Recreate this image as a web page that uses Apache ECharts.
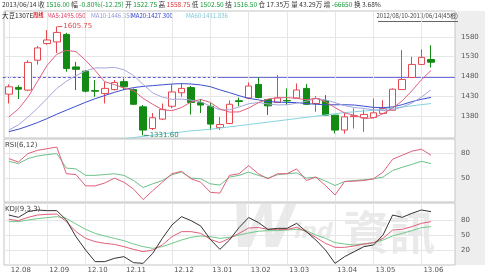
<!DOCTYPE html>
<html><head><meta charset="utf-8">
<script src="https://cdn.jsdelivr.net/npm/echarts@6/dist/echarts.min.js"></script>
<style>html,body{margin:0;padding:0;background:#fff}#c{width:488px;height:277px}</style>
</head><body><div id="c"></div>
<script>
const dates = ['2012-08-10','2012-08-17','2012-08-24','2012-08-31','2012-09-07','2012-09-14','2012-09-21','2012-09-28','2012-10-05','2012-10-12','2012-10-19','2012-10-26','2012-11-02','2012-11-09','2012-11-16','2012-11-23','2012-11-30','2012-12-07','2012-12-14','2012-12-21','2012-12-28','2013-01-04','2013-01-11','2013-01-18','2013-01-25','2013-02-01','2013-02-08','2013-02-15','2013-02-22','2013-03-01','2013-03-08','2013-03-15','2013-03-22','2013-03-29','2013-04-05','2013-04-12','2013-04-19','2013-04-26','2013-05-03','2013-05-10','2013-05-17','2013-05-24','2013-05-31','2013-06-07','2013-06-14'];
const opens = [1435.5,1452.4,1445.6,1521,1563,1567,1586,1504,1493.5,1444.5,1437,1447,1467,1447,1403.5,1349,1372.5,1405,1439,1452,1414,1405,1351.6,1361.5,1419,1426,1460,1422,1414.6,1419.5,1426,1450,1412,1418.6,1382.6,1345,1378.8,1376,1376.8,1387,1395,1447,1477.6,1510.4,1522.75];
const closes = [1454,1448,1515.5,1552,1572,1591,1500,1498,1443,1443,1450,1465,1454,1410,1345,1376,1397,1441,1450,1414.6,1408,1360,1359,1410,1417,1456,1427,1406,1426,1418.5,1446,1410,1424.6,1382.6,1345,1378.3,1381,1384.4,1388.4,1399.5,1448,1472.6,1510.4,1528.25,1516];
const highs = [1460,1458,1521,1557,1597,1605.75,1590,1517,1496,1471,1466,1471,1475,1450,1408,1388,1412,1460,1462.5,1456,1423,1413,1378,1420,1427,1465,1477.6,1423,1483.5,1450,1462.5,1461,1430.5,1433,1383,1388.4,1399.5,1397,1424.6,1420,1450,1546.5,1529.6,1548,1558.75];
const lows = [1412,1423,1443,1510,1560,1539,1492,1446,1440,1429,1412,1445,1446,1408,1331.6,1345,1370,1400,1429,1384,1388,1345,1345,1360,1405,1424,1425,1383,1413,1408,1425,1409,1391,1381,1336.5,1336,1349,1340.5,1375,1386,1394,1446,1476,1509,1502.5];
const ma5 = [1378,1398,1428,1468,1508.3,1535.7,1546.1,1542.6,1520.8,1495,1466.8,1459.8,1451,1444.4,1424.8,1410,1396.4,1393.8,1401.8,1415.7,1422.1,1414.7,1398.3,1390.3,1390.8,1400.4,1413.8,1423.2,1426.4,1426.8,1424.8,1421.4,1425.1,1416.4,1401.6,1388.1,1382.3,1374.3,1375.4,1386.3,1400.3,1418.6,1443.8,1471.8,1495.05];
const ma10 = [1345,1358,1378,1400,1425,1450,1468,1482,1494,1501.7,1501.3,1503,1496.8,1482.6,1459.9,1438.4,1428.1,1422.4,1423.1,1420.3,1416.1,1405.6,1396.1,1396.1,1403.3,1411.3,1414.3,1410.8,1408.4,1408.8,1412.6,1417.6,1424.2,1421.4,1414.2,1406.5,1401.9,1399.7,1395.9,1394,1396,1403,1413,1428,1446.35];
const ma20 = [1341,1347,1355,1364,1374,1385,1395,1405,1415,1424,1432,1440,1447,1452,1455,1457,1459,1461,1462,1461,1458.7,1454.3,1446.4,1439.3,1431.6,1424.8,1421.2,1416.6,1415.7,1414.5,1414.3,1411.6,1410.1,1408.7,1408.7,1408.9,1408.1,1405.2,1402.1,1401.4,1403.4,1409,1416.6,1422.5,1427.3];
const ma60 = [1255,1262,1269,1276,1283,1290,1296,1302,1307,1312,1316,1320,1323,1326,1329,1332,1335,1338,1340,1343,1345,1347,1350,1353,1356,1359,1362,1365,1368,1371,1374,1377,1380,1383,1386,1389,1391,1393,1395,1397,1400,1403,1406,1409,1411.8];
const rsi6 = [73.7,69.5,80,84,86,88,55,54,40,40,43.5,49.5,44.5,36,23,34,44.5,55,58,48.8,44.5,32,31,53,55,65,55,48.7,55,55,61,46.6,50.8,40.4,28.7,45.4,45.8,46.6,48.7,57,72.9,77.9,82.9,85.4,77.9];
const rsi12 = [70.4,67.5,73.7,77,78.7,80,62,61,53,53,54,55,53,46.6,38,42.5,46.6,53.7,57,49.6,48.8,42.5,41,50.8,53,57,53,49.6,53.7,55,56,49.6,50.8,46,40.4,45.4,46.5,47.5,48.7,50.8,59,63,66.5,70.4,67.5];
const kdjK = [81.3,78.7,85.3,90,91.3,92,76.7,56.7,43.3,36.7,33.3,31.3,26.7,21.3,16.7,20,30,46.7,56.7,56.7,53.3,41.3,34.7,43.3,53.3,64,65,61.3,61.3,61.3,65.3,56.7,45.3,33.3,25.3,25.3,28,32,34.7,43.3,60,61.3,66.7,73.3,76.7];
const kdjD = [76.7,76.7,80,82.7,84.7,86.7,83.3,72,61.3,53.3,48,43.3,38.7,32,26.7,23.3,26.7,33.3,40,45.3,48,46.7,43.3,45.3,50,54,57.5,58.7,58.7,60,61.3,58.7,50,43.3,34.7,32,30,32,34.7,40,48,53.3,58.7,64.7,66.7];
const kdjJ = [90,85.3,96.7,100,98.7,98.7,80,46.7,20,-3.3,-3.3,3.3,6.7,-5.3,-6.7,13.3,43.3,70,86.7,78.7,68,41.3,21.3,40,65,85,75,61.3,63.3,63.3,73.3,56.7,40,20,-6.7,6.7,16.7,26.7,30,50,90,85.3,93.3,100,96.7];
const mainTicks = [1380,1430,1480,1530,1580];
const rsiTicks = [50,80];
const kdjTicks = [20,50,80];
const refLevel = 1478;
const refSplitIdx = 22;

const N = dates.length;
const monthIdx = [];
dates.forEach((d,i)=>{ if(i===0 || d.slice(0,7)!==dates[i-1].slice(0,7)) monthIdx.push(i); });
const monthSet = new Set(monthIdx);
const fmtMonth = d => d.slice(2,4)+'.'+d.slice(5,7);

const GL = 4, GW = 451;
const gridStyle = {show:true, borderColor:'#c4c4c4', borderWidth:1, backgroundColor:'transparent'};
const grids = [
  Object.assign({left:GL, width:GW, top:11, height:127}, gridStyle),
  Object.assign({left:GL, width:GW, top:139, height:63}, gridStyle),
  Object.assign({left:GL, width:GW, top:203, height:62}, gridStyle)
];
function xa(gi, show){
  return {type:'category', gridIndex:gi, data:dates, max:N+1, boundaryGap:true,
    axisLine:{show:false},
    axisTick:{show:show, alignWithLabel:true, interval:(i)=>monthSet.has(i), length:5, lineStyle:{color:'#999'}},
    axisLabel:{show:show, interval:(i)=>monthSet.has(i), formatter:(v)=> v ? fmtMonth(v) : '', align:'left', padding:[0,0,0,2], fontSize:7, color:'#555', margin:2, fontFamily:'DejaVu Sans'},
    splitLine:{show:false}};
}
function ya(gi, min, max, interval, ticks){
  return {type:'value', gridIndex:gi, position:'right', min:min, max:max, interval:interval,
    axisLine:{show:false}, axisTick:{show:false}, splitLine:{show:false},
    axisLabel:{formatter:(v)=> ticks.includes(Math.round(v*100)/100) ? String(Math.round(v)) : '', fontSize:7, color:'#555', margin:6, fontFamily:'DejaVu Sans'}};
}
const gridLineStyle = {color:'#e6e6e6', type:'solid', width:1};
function gridLines(ticks){
  const arr = monthIdx.map(i=>({xAxis:dates[i], lineStyle:gridLineStyle}));
  ticks.forEach(t=>arr.push({yAxis:t, lineStyle:gridLineStyle}));
  return arr;
}
function ml(data){ return {silent:true, z:1, symbol:['none','none'], label:{show:false}, animation:false, data:data}; }
function lineS(name, data, color, xi, yi, extra){
  return Object.assign({name:name, type:'line', xAxisIndex:xi, yAxisIndex:yi, data:data, symbol:'none', showSymbol:false,
    lineStyle:{color:color, width:1}, itemStyle:{color:color}, z:3, animation:false}, extra||{});
}
const cjk = 'Noto Sans CJK SC';
const txt = (id, x, y, text, fill, size, extra) => Object.assign({type:'text', id:id, silent:true, x:x, y:y,
  style:{text:text, fill:fill, fontSize:size, fontFamily:cjk}}, extra||{});

const graphics = [
  {type:'rect', id:'strip', z:-10, silent:true, shape:{x:455, y:11, width:30, height:254}, style:{fill:'#eeeeee'}},
  {type:'text', id:'wm', z:0, silent:true, left:230, top:203, style:{
    text:'{w|W}{i|ind}{z| 資訊}',
    rich:{w:{fontSize:58, fontWeight:'bold', fontStyle:'italic', fontFamily:'DejaVu Sans', fill:'rgba(150,150,150,0.2)'},
          i:{fontSize:22, fontWeight:'bold', fontStyle:'italic', fontFamily:'DejaVu Sans', fill:'rgba(150,150,150,0.2)'},
          z:{fontSize:46, fontWeight:'bold', fontFamily:'Noto Sans CJK TC', fill:'rgba(150,150,150,0.2)'}}}},
  {type:'text', id:'row1', silent:true, x:2, y:1, style:{
    text:'{k|2013/06/14 收 }{g|1516.00}{k| 幅 }{g|-0.80%(-12.25)}{k| 开 }{g|1522.75}{k| 高 }{r|1558.75}{k| 低 }{g|1502.50}{k| 结 }{g|1516.50}{k| 仓 17.35万 量 43.29万 增 }{g|-66650}{k| 换 3.68%}',
    rich:{k:{fill:'#333', fontSize:6.6, fontFamily:cjk}, g:{fill:'#1a9a3a', fontSize:6.6, fontFamily:cjk}, r:{fill:'#e03a3a', fontSize:6.6, fontFamily:cjk}}}},
  txt('name', 2, 12, '大豆1307E', '#222', 6.5),
  txt('tag', 33, 12.5, '周线', '#e02020', 5.2, {style:{text:'周线', fill:'#e02020', fontSize:5.2, fontFamily:cjk, fontWeight:'bold'}}),
  txt('ma5t', 47, 12.5, 'MA5:1495.050', '#e0406a', 6),
  txt('ma10t', 91, 12.5, 'MA10:1446.350', '#8f96d6', 6),
  txt('ma20t', 131, 12.5, 'MA20:1427.300', '#2a3fd0', 6),
  txt('ma60t', 186, 12.5, 'MA60:1411.836', '#7cc9d8', 6),
  txt('range', 458, 12.5, '2012/08/10-2013/06/14(45根)', '#444', 6, {style:{text:'2012/08/10-2013/06/14(45根)', fill:'#444', fontSize:6, fontFamily:cjk, align:'right'}}),
  {type:'line', id:'uline', silent:true, shape:{x1:378, y1:21.5, x2:458, y2:21.5}, style:{stroke:'#666', lineWidth:1}},
  {type:'text', id:'rsit', silent:true, x:5, y:142, style:{text:'RSI(6,12)', fill:'#444', fontSize:7, fontFamily:'DejaVu Sans'}},
  {type:'text', id:'kdjt', silent:true, x:5, y:206, style:{text:'KDJ(9,3,3)', fill:'#444', fontSize:7, fontFamily:'DejaVu Sans'}}
];

const option = {
  animation:false,
  backgroundColor:'#ffffff',
  grid: grids,
  xAxis:[xa(0,false), xa(1,false), xa(2,true)],
  yAxis:[ya(0,1325,1645,5,mainTicks), ya(1,20,98,10,rsiTicks), ya(2,-10,114,10,kdjTicks)],
  series:[
    {type:'candlestick', name:'K', xAxisIndex:0, yAxisIndex:0, barWidth:7, z:2,
     data: dates.map((d,i)=>[opens[i], closes[i], lows[i], highs[i]]),
     itemStyle:{color:'#ffffff', color0:'#138a13', borderColor:'#e5484f', borderColor0:'#138a13', borderWidth:1},
     markLine: ml(gridLines(mainTicks)),
     markPoint:{z:6, animation:false, symbol:'rect', symbolSize:[5,1], symbolOffset:[3,0],
       data:[
         {type:'max', valueDim:'highest', itemStyle:{color:'#e04848'}, label:{show:true, position:'right', distance:1, color:'#e04848', fontSize:7, fontFamily:'DejaVu Sans', formatter:(p)=>Number(p.value).toFixed(2)}},
         {type:'min', valueDim:'lowest', itemStyle:{color:'#2f8f6f'}, label:{show:true, position:'right', distance:1, color:'#2f8f6f', fontSize:7, fontFamily:'DejaVu Sans', formatter:(p)=>Number(p.value).toFixed(2)}}
       ]}
    },
    lineS('MA60', ma60, '#86d3e0', 0, 0),
    lineS('MA20', ma20, '#3b4fcf', 0, 0),
    lineS('MA10', ma10, '#a4a8dc', 0, 0),
    lineS('MA5', ma5, '#e0607e', 0, 0),
    lineS('RSI12', rsi12, '#6cc08a', 1, 1, {markLine: ml(gridLines(rsiTicks))}),
    lineS('RSI6', rsi6, '#e0607a', 1, 1),
    lineS('D', kdjD, '#72c98a', 2, 2, {markLine: ml(gridLines(kdjTicks))}),
    lineS('K', kdjK, '#e0607a', 2, 2),
    lineS('J', kdjJ, '#333333', 2, 2)
  ],
  graphic: graphics
};
const chart = echarts.init(document.getElementById('c'), null, {renderer:'canvas'});
chart.setOption(option);
// reference level line: positions come from the library's own scales
const yRef = Math.round(chart.convertToPixel({yAxisIndex:0}, refLevel)) + 0.5;
const xSplit = chart.convertToPixel({xAxisIndex:0}, dates[refSplitIdx]);
const xStart = chart.convertToPixel({xAxisIndex:0}, dates[0]) - 6;
graphics.push({type:'line', id:'refDash', z:1, silent:true, shape:{x1:xStart, y1:yRef, x2:xSplit, y2:yRef}, style:{stroke:'#5c5cd8', lineWidth:1, lineDash:[3,2]}});
graphics.push({type:'line', id:'refSolid', z:1, silent:true, shape:{x1:xSplit, y1:yRef, x2:GL+GW, y2:yRef}, style:{stroke:'#6f6fe0', lineWidth:1}});
option.graphic = graphics;
chart.setOption(option, true);
</script>
</body></html>
